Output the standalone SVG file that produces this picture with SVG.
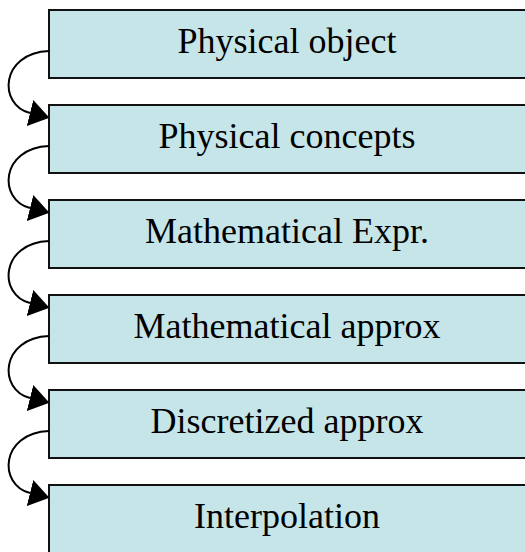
<svg xmlns="http://www.w3.org/2000/svg" width="525" height="552" viewBox="0 0 525 552">
<defs>
<style>
.box rect{fill:#c6e5e9;stroke:#111;stroke-width:2}
.box text{font-family:"Liberation Serif","Times New Roman",serif;font-size:36px;fill:#000;text-anchor:middle}
.conn path{fill:none;stroke:#000;stroke-width:2}
</style>
<marker id="ah" viewBox="0 -14 20 28" refX="0" refY="0" markerWidth="20" markerHeight="28" markerUnits="userSpaceOnUse" orient="auto">
<path d="M0,-13.5 L20,0 L0,13.5 z" fill="#000"/>
</marker>
</defs>
<rect width="525" height="552" fill="#fff"/>
<g id="n1" class="box"><rect x="49" y="10" width="480" height="68"/><text x="287" y="53">Physical object</text></g>
<g id="n2" class="box"><rect x="49" y="105" width="480" height="68"/><text x="287" y="148">Physical concepts</text></g>
<g id="n3" class="box"><rect x="49" y="200" width="480" height="68"/><text x="287" y="243">Mathematical Expr.</text></g>
<g id="n4" class="box"><rect x="49" y="295" width="480" height="68"/><text x="287" y="338">Mathematical approx</text></g>
<g id="n5" class="box"><rect x="49" y="390" width="480" height="68"/><text x="287" y="433">Discretized approx</text></g>
<g id="n6" class="box"><rect x="49" y="485" width="480" height="68"/><text x="287" y="528">Interpolation</text></g>
<g id="connectors" class="conn">
<path d="M49,51 C0,53 -2,105 30,113" marker-end="url(#ah)"/>
<path d="M49,146 C0,148 -2,200 30,208" marker-end="url(#ah)"/>
<path d="M49,241 C0,243 -2,295 30,303" marker-end="url(#ah)"/>
<path d="M49,336 C0,338 -2,390 30,398" marker-end="url(#ah)"/>
<path d="M49,431 C0,433 -2,485 30,493" marker-end="url(#ah)"/>
</g>
</svg>
